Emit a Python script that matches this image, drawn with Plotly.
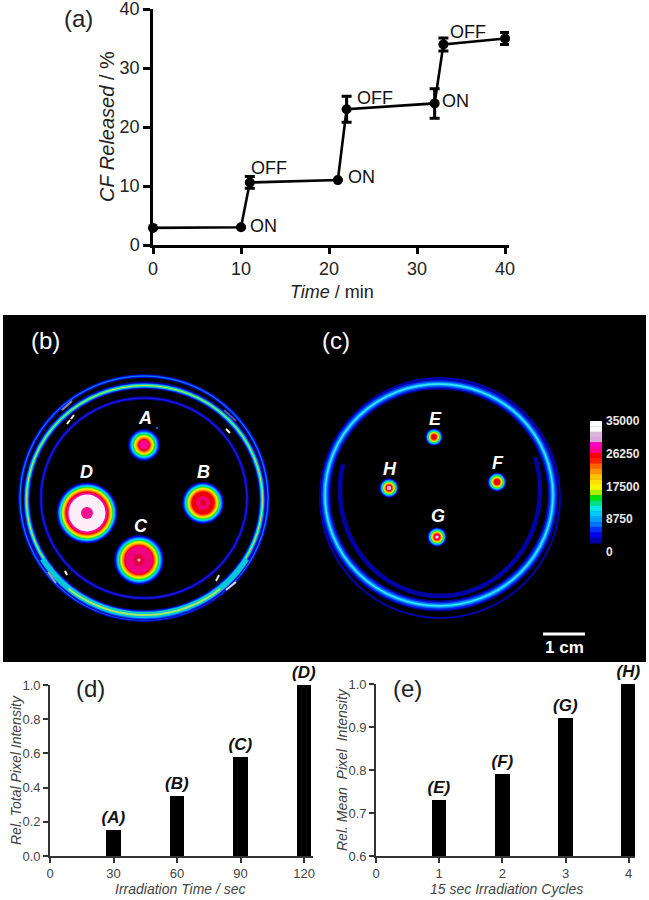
import numpy as np
import plotly.graph_objects as go

W, H = 649, 900
FONT = "Liberation Sans"

# (a) release curve
time_min = [0, 10, 11, 21, 22, 32, 33, 40]
released = [2.9, 3.0, 10.6, 11.0, 23.0, 24.0, 34.0, 35.0]
released_err = [0, 0, 1.0, 0, 2.2, 2.5, 1.1, 1.0]
state_text = ["ON", "OFF", "ON", "OFF", "ON", "OFF"]
state_x = [10.75, 10.9, 21.9, 22.95, 32.6, 33.5]
state_y = [3.2, 13.0, 11.5, 25.0, 24.4, 36.1]

# (d) and (e) bars
irr_time = [30, 60, 90, 120]
rel_total = [0.15, 0.35, 0.58, 1.0]
total_labels = ["(A)", "(B)", "(C)", "(D)"]
cycles = [1, 2, 3, 4]
rel_mean = [0.73, 0.79, 0.92, 1.0]
mean_labels = ["(E)", "(F)", "(G)", "(H)"]

# Colour key of panels (b) and (c)
key_labels = ["35000", "26250", "17500", "8750", "0"]
key_colors = ["#ffffff", "#ffffff", "#dcb4dc", "#d8a8d8", "#ff00c0", "#ff0090", "#ff0000", "#ff2000",
              "#ff6000", "#ff9000", "#ffc000", "#ffe000", "#f8f800", "#a8f000", "#00e000", "#00e080",
              "#00e8e8", "#00c8ff", "#00a0ff", "#0070ff", "#0030ff", "#0000e8", "#0000b0"]
ramp = ["#00009c", "#0000e0", "#0040ff", "#0090ff", "#00c8ff", "#00e8d0", "#00e040", "#80ee00",
        "#e8f000", "#ffd800", "#ffa000", "#ff7000", "#ff2000", "#f00000", "#ff00a0"]

# Fluorescent spots: name, centre x, centre y, radius, ramp step, ramp levels, inner discs
spot_names = ["A", "B", "C", "D", "E", "F", "G", "H"]
spot_x = [144, 203, 139, 87, 434, 497, 437, 389]
spot_y = [445, 503, 560, 513, 437, 482, 537, 488]
spot_r = [16, 21, 25, 30.5, 8.7, 9.5, 9.7, 9.7]
spot_step = [0.8, 0.75, 0.82, 0.72, 0.48, 0.52, 0.52, 0.52]
spot_levels = [15, 14, 15, 15, 14, 14, 15, 15]
spot_core = [[], [(7, "#f00070"), (3, "#e00030")], [(13.5, "#f00080"), (6, "#e00040"), (1.5, "#ffc0e0")],
             [(18.5, "#ffeef8"), (6, "#f01090")], [], [], [(1.6, "#ffd0f0")], [(2.2, "#f0b0e0")]]
label_x = [145, 203, 141, 86, 435, 498, 438, 390]
label_y = [418, 472, 526, 472, 419, 463, 516, 469]

# Dish rings: centre x, centre y, radius x, radius y, (colour, width) stack
rings = [
    (144, 498, 124, 122, [("#00009c", 4), ("#0020e0", 2.6), ("#0080ff", 1)]),
    (144.5, 501, 118.5, 116.5, [("#0000a8", 6), ("#0030f0", 4), ("#00a0ff", 2)]),
    (144.5, 499.5, 118, 114, [("#00009c", 7), ("#0040ff", 5), ("#00c0ff", 3.4), ("#00e090", 2), ("#c8e840", 1)]),
    (144, 498, 103, 100, [("#0000a0", 3.4), ("#1818d8", 1.6)]),
    (440, 498, 120, 120, [("#000090", 2), ("#0000c8", 1)]),
    (439, 495, 114, 111, [("#000098", 11), ("#0020e0", 8), ("#0070ff", 5), ("#00b0ff", 3), ("#40e0f8", 1.4)]),
]
# Arcs: centre x, centre y, radius x, radius y, start and end degrees (screen clockwise from +x), colour, width
arcs = [
    (440, 490, 100, 106, -18, 196, "#0000a8", 4.5),
    (144.5, 503, 118, 112, 30, 150, "#00c8d8", 5),
    (144.5, 503, 118, 112, 50, 130, "#a8e860", 2),
]
# Highlights on the rim of dish (b)
rim_x0 = [62, 224, 48, 226, 67, 71, 226, 65, 216]
rim_y0 = [410, 410, 572, 590, 424, 419, 429, 571, 581]
rim_x1 = [72, 236, 56, 236, 70, 74, 230, 67, 219]
rim_y1 = [401, 421, 583, 582, 420, 415, 433, 575, 575]
rim_col = ["#8088b0", "#505898", "#a0a0b8", "#d8d8e8", "#ffffff", "#e8e8ff", "#ffffff", "#ffffff", "#e0e0f0"]


def xd(a, b):
    return [a / W, b / W]


def yd(top, bottom):
    return [1 - bottom / H, 1 - top / H]


fig = go.Figure()
GEO = dict(xref="x4", yref="y4")
shapes = []


def ell(cx, cy, rx, ry, line=None, width=0, fill=None):
    shapes.append(dict(type="circle", x0=cx - rx, x1=cx + rx, y0=cy - ry, y1=cy + ry,
                       line=dict(color=line or "rgba(0,0,0,0)", width=width),
                       fillcolor=fill or "rgba(0,0,0,0)", layer="above", **GEO))


# Black image background
shapes.append(dict(type="rect", x0=3, x1=646, y0=315, y1=662, fillcolor="#000000",
                   line=dict(width=0), layer="above", **GEO))

for cx, cy, rx, ry, stack in rings:
    for col, wid in stack:
        ell(cx, cy, rx, ry, line=col, width=wid)

for cx, cy, rx, ry, a0, a1, col, wid in arcs:
    pts = [(cx + rx * np.cos(np.radians(t)), cy + ry * np.sin(np.radians(t))) for t in np.arange(a0, a1 + 1, 4)]
    path = "M " + " L ".join(f"{px:.1f} {py:.1f}" for px, py in pts)
    shapes.append(dict(type="path", path=path, line=dict(color=col, width=wid), layer="above", **GEO))

for i in range(len(rim_x0)):
    shapes.append(dict(type="line", x0=rim_x0[i], x1=rim_x1[i], y0=rim_y0[i], y1=rim_y1[i],
                       line=dict(color=rim_col[i], width=2), layer="above", **GEO))

for i in range(len(spot_names)):
    for lev in range(spot_levels[i]):
        r = spot_r[i] - lev * spot_step[i]
        ell(spot_x[i], spot_y[i], r, r, fill=ramp[lev])
    for r, col in spot_core[i]:
        ell(spot_x[i], spot_y[i], r, r, fill=col)
ell(157, 428, 1.2, 1.2, fill="#2060e0")

# Colour key
key_top, key_bottom = 421, 543
seg = (key_bottom - key_top) / len(key_colors)
for i, col in enumerate(key_colors):
    shapes.append(dict(type="rect", x0=590, x1=602, y0=key_top + i * seg, y1=key_top + (i + 1) * seg + 0.4,
                       fillcolor=col, line=dict(width=0), layer="above", **GEO))

# Scale bar
shapes.append(dict(type="line", x0=543, x1=585, y0=634, y1=634, line=dict(color="#ffffff", width=3),
                   layer="above", **GEO))

# Anchor trace for the pixel-space axes
fig.add_trace(go.Scatter(x=[0, W], y=[0, H], mode="markers", marker=dict(opacity=0, size=1),
                         xaxis="x4", yaxis="y4", hoverinfo="skip", showlegend=False))

# (a)
fig.add_trace(go.Scatter(
    x=time_min, y=released, mode="lines+markers", cliponaxis=False, showlegend=False,
    line=dict(color="#000000", width=2.6), marker=dict(color="#000000", size=10),
    error_y=dict(type="data", array=released_err, color="#000000", thickness=3, width=5),
    xaxis="x", yaxis="y"))

# (d)
fig.add_trace(go.Bar(
    x=irr_time, y=rel_total, width=6.9, marker=dict(color="#000000", line=dict(width=0)),
    text=total_labels, textposition="outside", cliponaxis=False, constraintext="none",
    textfont=dict(family=FONT, size=17, color="#111111", weight="bold", style="italic"),
    showlegend=False, xaxis="x2", yaxis="y2"))

# (e)
fig.add_trace(go.Bar(
    x=cycles, y=rel_mean, width=0.23, marker=dict(color="#000000", line=dict(width=0)),
    text=mean_labels, textposition="outside", cliponaxis=False, constraintext="none",
    textfont=dict(family=FONT, size=17, color="#111111", weight="bold", style="italic"),
    showlegend=False, xaxis="x3", yaxis="y3"))

notes = []


def pix(text, x, y, size, color="#222222", angle=0, anchor="center", bold=False, italic=False):
    if bold:
        text = f"<b>{text}</b>"
    if italic:
        text = f"<i>{text}</i>"
    notes.append(dict(xref="x4", yref="y4", x=x, y=y, text=text, showarrow=False, textangle=angle,
                      xanchor=anchor, yanchor="middle", font=dict(family=FONT, size=size, color=color)))


for t, x, y in zip(state_text, state_x, state_y):
    notes.append(dict(xref="x", yref="y", x=x, y=y, text=t, showarrow=False, xanchor="left", yanchor="middle",
                      xshift=0, font=dict(family=FONT, size=18, color="#111111")))

pix("(a)", 78, 18, 24)
pix("<i>CF Released</i> / %", 107, 127, 20, angle=-90)
pix("<i>Time</i> / min", 332, 292, 18)
pix("(b)", 45, 340, 24, color="#ffffff")
pix("(c)", 336, 340, 24, color="#ffffff")
pix("(d)", 90, 688, 24)
pix("(e)", 407, 688, 24)
pix("Rel. Total Pixel Intensity", 16, 770, 14, color="#444444", angle=-90, italic=True)
pix("Rel. Mean&nbsp; Pixel&nbsp; Intensity", 342, 770, 14, color="#444444", angle=-90, italic=True)
pix("Irradiation Time / sec", 180, 889, 14, color="#444444", italic=True)
pix("15 sec Irradiation Cycles", 506, 889, 14, color="#444444", italic=True)
for n, x, y in zip(spot_names, label_x, label_y):
    pix(n, x, y, 18, color="#ffffff", bold=True, italic=True)
for t, y in zip(key_labels, [421, 454, 487, 519, 552]):
    pix(t, 604, y, 12, color="#e8e8e8", anchor="left", bold=True)
pix("1 cm", 564, 647, 17, color="#ffffff", bold=True)

AX = dict(showgrid=False, zeroline=False, showline=True, ticks="outside", color="#222222",
          ticklabeloverflow="allow", tickfont=dict(family=FONT))
fig.update_layout(
    width=W, height=H, margin=dict(l=0, r=0, t=0, b=0, pad=0, autoexpand=False),
    paper_bgcolor="#ffffff", plot_bgcolor="rgba(0,0,0,0)",
    showlegend=False, shapes=shapes, annotations=notes, font=dict(family=FONT), bargap=0,
    xaxis=dict(AX, domain=xd(153, 509), range=[0, 40.45], tickvals=[0, 10, 20, 30, 40], anchor="y",
               linewidth=2.5, linecolor="#000000", tickwidth=2.5, tickcolor="#000000", ticklen=6,
               tickfont=dict(family=FONT, size=18, color="#222222")),
    yaxis=dict(AX, domain=yd(9, 245), range=[0, 40], tickvals=[0, 10, 20, 30, 40], anchor="x",
               linewidth=2.5, linecolor="#000000", tickwidth=2.5, tickcolor="#000000", ticklen=7,
               tickfont=dict(family=FONT, size=18, color="#222222")),
    xaxis2=dict(AX, domain=xd(50, 313), range=[0, 124.2], tickvals=[0, 30, 60, 90, 120], anchor="y2",
                linewidth=1.6, linecolor="#333333", tickwidth=1.6, tickcolor="#333333", ticklen=5,
                tickfont=dict(family=FONT, size=13, color="#444444")),
    yaxis2=dict(AX, domain=yd(685, 856), range=[0, 1], tickvals=[0, 0.2, 0.4, 0.6, 0.8, 1.0], tickformat=".1f",
                anchor="x2", linewidth=1.6, linecolor="#333333", tickwidth=1.6, tickcolor="#333333", ticklen=5,
                tickfont=dict(family=FONT, size=13, color="#444444")),
    xaxis3=dict(AX, domain=xd(376, 635), range=[0, 4.1], tickvals=[0, 1, 2, 3, 4], anchor="y3",
                linewidth=1.6, linecolor="#333333", tickwidth=1.6, tickcolor="#333333", ticklen=5,
                tickfont=dict(family=FONT, size=13, color="#444444")),
    yaxis3=dict(AX, domain=yd(684, 856), range=[0.6, 1.0], tickvals=[0.6, 0.7, 0.8, 0.9, 1.0], tickformat=".1f",
                anchor="x3", linewidth=1.6, linecolor="#333333", tickwidth=1.6, tickcolor="#333333", ticklen=5,
                tickfont=dict(family=FONT, size=13, color="#444444")),
    xaxis4=dict(domain=[0, 1], range=[0, W], visible=False, anchor="y4", fixedrange=True),
    yaxis4=dict(domain=[0, 1], range=[H, 0], visible=False, anchor="x4", fixedrange=True),
)

fig.write_html("out.html", config=dict(displayModeBar=False),
               post_script="document.body.style.margin='0';document.body.style.overflow='hidden';"
                           "var s=document.createElement('style');"
                           "s.textContent='.shapelayer{filter:blur(0.7px)}';document.head.appendChild(s);")
